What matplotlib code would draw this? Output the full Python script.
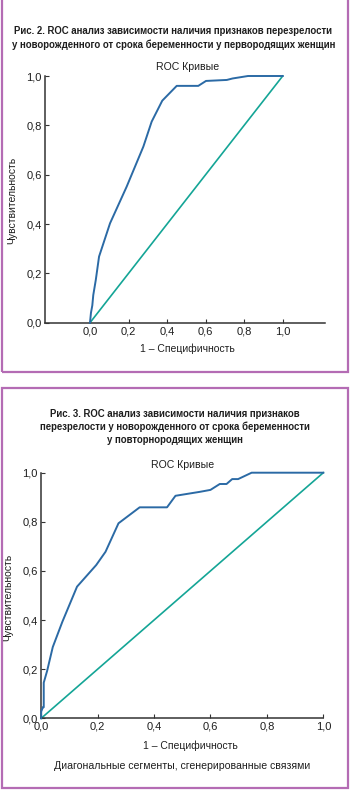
import matplotlib
matplotlib.use("Agg")
import matplotlib.pyplot as plt
from matplotlib.patches import Rectangle

plt.rcParams['font.family'] = ['Liberation Sans', 'DejaVu Sans']

# ---- Data ----
title1 = "Рис. 2. ROC анализ зависимости наличия признаков перезрелости\nу новорожденного от срока беременности у первородящих женщин"
title2 = "Рис. 3. ROC анализ зависимости наличия признаков\nперезрелости у новорожденного от срока беременности\nу повторнородящих женщин"
subtitle = "ROC Кривые"
xlabel = "1 – Специфичность"
ylabel = "Чувствительность"
footnote = "Диагональные сегменты, сгенерированные связями"

ticks = [0.0, 0.2, 0.4, 0.6, 0.8, 1.0]
tick_labels = ["0,0", "0,2", "0,4", "0,6", "0,8", "1,0"]

fpr1 = [0.0, 0.005, 0.012, 0.017, 0.03, 0.047, 0.104, 0.19, 0.277, 0.32, 0.375, 0.45, 0.562, 0.602, 0.71, 0.74, 0.82, 1.0]
tpr1 = [0.0, 0.04, 0.07, 0.112, 0.173, 0.268, 0.403, 0.551, 0.714, 0.815, 0.90, 0.96, 0.96, 0.98, 0.984, 0.99, 1.0, 1.0]

fpr2 = [0.0, 0.0, 0.006, 0.009, 0.009, 0.021, 0.041, 0.075, 0.127, 0.195, 0.228, 0.274, 0.349, 0.446, 0.476, 0.562, 0.6, 0.633, 0.657, 0.677, 0.698, 0.746, 1.0]
tpr2 = [0.0, 0.027, 0.045, 0.045, 0.145, 0.193, 0.29, 0.393, 0.536, 0.624, 0.678, 0.794, 0.859, 0.859, 0.906, 0.922, 0.93, 0.954, 0.954, 0.974, 0.974, 1.0, 1.0]

diag = [0.0, 1.0]

curve_color = "#2b6aa5"
diag_color = "#14a596"
border_color = "#b46cb4"
axis_color = "#333333"
text_color = "#1e1e1e"

W, H = 350, 793
fig = plt.figure(figsize=(W / 100, H / 100), dpi=100)
fig.patch.set_facecolor("white")

def fx(px):
    return px / W

def fy(py):
    return 1 - py / H

# Panel borders
fig.patches.append(Rectangle((fx(2), fy(372)), fx(345.7), (372 + 5) / H,
                             transform=fig.transFigure, fill=False,
                             edgecolor=border_color, linewidth=1.6))
fig.patches.append(Rectangle((fx(2), fy(788)), fx(345.7), 400 / H,
                             transform=fig.transFigure, fill=False,
                             edgecolor=border_color, linewidth=1.6))

def style_axes(ax):
    for s in ["top", "right"]:
        ax.spines[s].set_visible(False)
    for s in ["left", "bottom"]:
        ax.spines[s].set_color(axis_color)
        ax.spines[s].set_linewidth(1.1)
    ax.set_ylim(0, 1.0)
    ax.set_xticks(ticks)
    ax.set_xticklabels(tick_labels)
    ax.set_yticks(ticks)
    ax.set_yticklabels(tick_labels)
    ax.tick_params(direction="in", length=3, width=0.8, color=axis_color,
                   labelsize=8, pad=2.5, labelcolor=text_color)
    ax.set_facecolor("white")

# ---- Panel 1 ----
ax1 = fig.add_axes([fx(45), fy(322.7), 280 / W, 246.7 / H])
ax1.set_xlim(-0.2335, 1.2195)
style_axes(ax1)
ax1.plot(diag, diag, color=diag_color, lw=1.2, clip_on=False, zorder=2)
ax1.plot(fpr1, tpr1, color=curve_color, lw=1.4, clip_on=False, zorder=3)
fig.text(0.495, fy(38), title1, ha="center", va="center", fontsize=6.9,
         fontweight="bold", linespacing=1.3, color=text_color)
fig.text(fx(188), fy(67), subtitle, ha="center", va="center", fontsize=7.6, color=text_color)
fig.text(fx(187), fy(349), xlabel, ha="center", va="center", fontsize=7.5, color=text_color)
fig.text(fx(12), fy(200), ylabel, ha="center", va="center", rotation=90, fontsize=7.5, color=text_color)

# ---- Panel 2 ----
ax2 = fig.add_axes([fx(41.2), fy(718.3), 282.1 / W, 245.6 / H])
ax2.set_xlim(0, 1.0)
style_axes(ax2)
ax2.plot(diag, diag, color=diag_color, lw=1.2, clip_on=False, zorder=2)
ax2.plot(fpr2, tpr2, color=curve_color, lw=1.4, clip_on=False, zorder=3)
fig.text(0.5, fy(427), title2, ha="center", va="center", fontsize=6.9,
         fontweight="bold", linespacing=1.3, color=text_color)
fig.text(fx(183), fy(465), subtitle, ha="center", va="center", fontsize=7.6, color=text_color)
fig.text(fx(190), fy(746), xlabel, ha="center", va="center", fontsize=7.5, color=text_color)
fig.text(fx(8), fy(597), ylabel, ha="center", va="center", rotation=90, fontsize=7.5, color=text_color)
fig.text(fx(182), fy(766), footnote, ha="center", va="center", fontsize=7.6, color=text_color)

fig.savefig("out.png", dpi=100, facecolor="white")
